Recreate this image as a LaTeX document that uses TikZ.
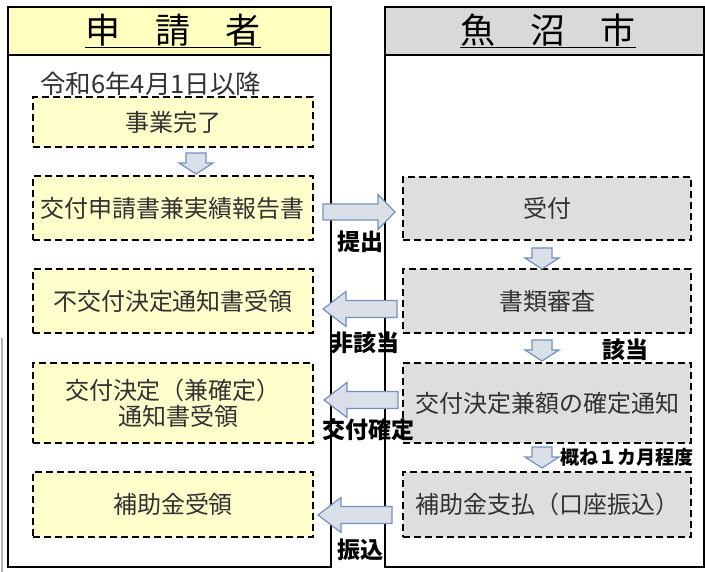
\documentclass[tikz,border=0pt]{standalone}
\usepackage{fontspec}
\setmainfont{Noto Sans CJK JP}
\usetikzlibrary{calc}
\definecolor{hdrY}{RGB}{255,255,192}
\definecolor{boxY}{RGB}{255,255,204}
\definecolor{hdrG}{RGB}{217,217,217}
\definecolor{boxG}{RGB}{222,222,222}
\definecolor{arrF}{RGB}{218,223,232}
\definecolor{arrD}{RGB}{115,145,195}
\definecolor{txtG}{RGB}{50,50,50}
\tikzset{
  panel/.style={draw=black, line width=1.6pt},
  stepbox/.style={draw=black, line width=1.6pt, dash pattern=on 7pt off 4pt, inner sep=0pt, align=center, text=txtG, font=\fontsize{24}{31}\selectfont},
  ybox/.style={stepbox, fill=boxY, minimum width=280pt},
  gbox/.style={stepbox, fill=boxG, minimum width=288pt},
  hdr/.style={inner sep=0pt, font=\fontsize{35}{40}\selectfont},
  lbl/.style={inner sep=0pt, font=\fontsize{23}{26}\selectfont\bfseries},
  blockarrow/.style={draw=arrD, fill=arrF, line width=1.2pt, line join=miter},
  darrow/.pic={\path[blockarrow] (-10,0) -- (10,0) -- (10,10) -- (17,10) -- (0,21) -- (-17,10) -- (-10,10) -- cycle;},
  rarrow/.pic={\path[blockarrow] (-36,-8) -- (19,-8) -- (19,-17.5) -- (36,0) -- (19,17.5) -- (19,8) -- (-36,8) -- cycle;},
  larrow/.pic={\path[blockarrow] (37,-8.5) -- (-14,-8.5) -- (-14,-17.5) -- (-37,0) -- (-14,17.5) -- (-14,8.5) -- (37,8.5) -- cycle;},
}
\begin{document}
\begin{tikzpicture}[x=1pt,y=-1pt]
\useasboundingbox (0,0) rectangle (705,572);
\fill[white] (0,0) rectangle (705,572);
% stray gray edge line
\draw[gray!60, line width=1.2pt] (2,338) -- (2,572);
% panels
\fill[hdrY] (8,7) rectangle (331,55);
\fill[hdrG] (385,7) rectangle (705,55);
\draw[panel] (8,7) rectangle (331,567);
\draw[panel] (8,55) -- (331,55);
\draw[panel] (385,7) rectangle (704,567);
\draw[panel] (385,55) -- (704,55);
\node[hdr] (hL) at (173,30) {申\hspace{1em}請\hspace{1em}者};
\node[hdr] (hR) at (548,30) {魚\hspace{1em}沼\hspace{1em}市};
\draw[line width=1.2pt] ([yshift=-1pt]hL.south west) -- ([yshift=-1pt]hL.south east);
\draw[line width=1.2pt] ([yshift=-1pt]hR.south west) -- ([yshift=-1pt]hR.south east);
% left boxes
\node[ybox, minimum height=50pt] (L1) at (173,122) {事業完了};
\node[ybox, minimum height=64pt] (L2) at (173,208) {交付申請書兼実績報告書};
\node[ybox, minimum height=64pt] (L3) at (173,301) {不交付決定通知書受領};
\node[ybox, minimum height=80pt] (L4) at (173,403) {交付決定（兼確定）\\[-5pt]\hspace*{0.5em}通知書受領};
\node[ybox, minimum height=65pt] (L5) at (173,504.5) {補助金受領};
\node[inner sep=0pt, anchor=west, text=txtG, font=\fontsize{25.5}{28}\selectfont] (date) at (40,84) {令和6年4月1日以降};
% right boxes
\node[gbox, minimum height=63pt] (R1) at (547,208.5) {受付};
\node[gbox, minimum height=64pt] (R2) at (547,301) {書類審査};
\node[gbox, minimum height=80pt] (R3) at (547,403) {交付決定兼額の確定通知};
\node[gbox, minimum height=65pt] (R4) at (547,504.5) {補助金支払（口座振込）};
% down arrows
\pic at (196,153) {darrow};
\pic at (542,248) {darrow};
\pic at (542,340) {darrow};
\pic at (542,447) {darrow};
% horizontal arrows
\pic at (359,212) {rarrow};
\pic at (360,309) {larrow};
\pic at (361,400) {larrow};
\pic at (355,515) {larrow};
% labels
\node[lbl] (t1) at (360,242) {提出};
\node[lbl] (t2) at (365,343) {非該当};
\node[lbl] (t3) at (625,350) {該当};
\node[lbl] (t4) at (368,430) {交付確定};
\node[lbl] (t5) at (360,550) {振込};
\node[lbl, anchor=west, font=\fontsize{19}{22}\selectfont\bfseries] (t6) at (560,457) {概ね１カ月程度};
\end{tikzpicture}
\end{document}
